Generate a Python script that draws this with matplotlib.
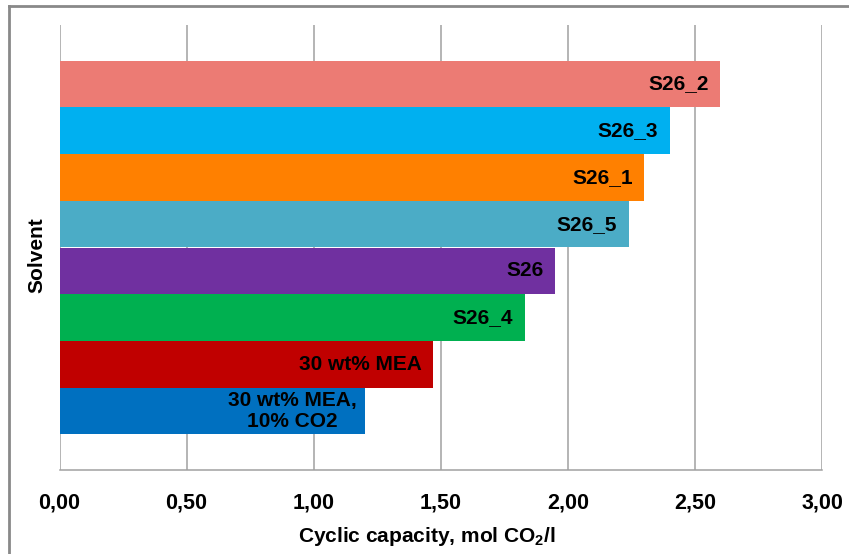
import matplotlib.pyplot as plt
from matplotlib.lines import Line2D
import numpy as np

plt.rcParams['font.family'] = ['Liberation Sans', 'DejaVu Sans']
plt.rcParams['mathtext.fontset'] = 'custom'
plt.rcParams['mathtext.bf'] = 'Liberation Sans:bold'

# solvents listed top to bottom
solvents = ['S26_2', 'S26_3', 'S26_1', 'S26_5', 'S26', 'S26_4', '30 wt% MEA', '30 wt% MEA,\n10% CO2']
capacity = [2.60, 2.40, 2.30, 2.24, 1.95, 1.83, 1.47, 1.20]
colors = ['#EC7B74', '#00B0F0', '#FF8000', '#4BACC6', '#7030A0', '#00B050', '#C00000', '#0070C0']
xticks = [0.0, 0.5, 1.0, 1.5, 2.0, 2.5, 3.0]

fig = plt.figure(figsize=(8.49, 5.54), dpi=100)
ax = fig.add_axes([59.5 / 849, 84 / 554, 762.5 / 849, 445 / 554])

pos = np.arange(len(solvents))
ax.barh(pos, capacity, height=1.0, color=colors, zorder=3)

# labels sit inside the end of each bar
for p, v, name in zip(pos, capacity, solvents):
    if '\n' in name:
        ax.text(v - 0.283, p, name, ha='center', va='center', fontsize=15,
                fontweight='bold', linespacing=1.15, zorder=4)
    else:
        ax.text(v - 0.045, p, name, ha='right', va='center', fontsize=15,
                fontweight='bold', zorder=4)

ax.set_xlim(0, 3)
ax.set_ylim(8.26, -1.26)
ax.set_xticks(xticks)
ax.set_xticklabels([f'{t:.2f}'.replace('.', ',') for t in xticks], fontsize=15.5, fontweight='bold')
ax.set_yticks([])
ax.tick_params(axis='x', length=0, pad=16)

ax.set_axisbelow(True)
ax.grid(axis='x', color='#A0A0A0', linewidth=1.1, zorder=0)
for s in ['top', 'right', 'left']:
    ax.spines[s].set_visible(False)
ax.spines['bottom'].set_color('#A0A0A0')
ax.spines['bottom'].set_linewidth(1.1)

fig.text(427 / 849, 1 - 537 / 554, 'Cyclic capacity, mol CO$_\\mathbf{2}$/l', ha='center', va='center',
         fontsize=15, fontweight='bold')
fig.text(37 / 849, 1 - 255 / 554, 'Solvent', ha='center', va='center', rotation=90,
         fontsize=15, fontweight='bold')

# outer chart frame (left and top edges visible)
fig.add_artist(Line2D([8.5 / 849, 8.5 / 849], [0, 1 - 5.5 / 554], color='#898989', linewidth=2, transform=fig.transFigure))
fig.add_artist(Line2D([8.5 / 849, 1], [1 - 5.5 / 554, 1 - 5.5 / 554], color='#898989', linewidth=2, transform=fig.transFigure))

fig.savefig('out.png', dpi=100)
